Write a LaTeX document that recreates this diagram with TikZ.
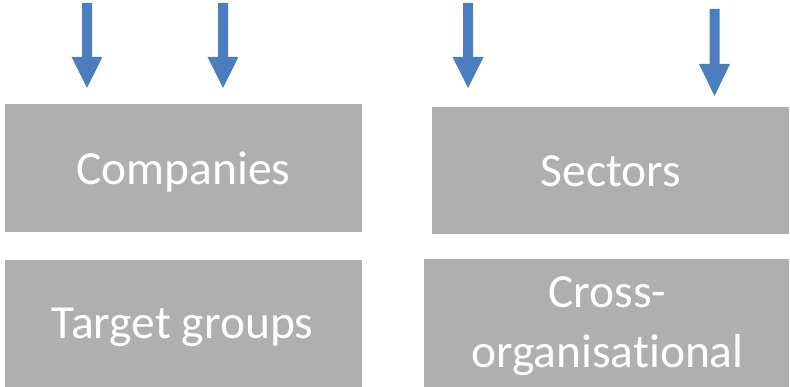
\documentclass[tikz,border=0pt]{standalone}
\usepackage{fontspec}
\setmainfont{Carlito}[Ligatures=NoCommon]
\definecolor{boxgrey}{HTML}{AFAFAF}
\definecolor{arrowblue}{HTML}{4A7EBF}
\tikzset{
  box/.style={fill=boxgrey, draw=none, inner sep=0pt, anchor=center},
  lbl/.style={text=white, font=\fontsize{47.5}{58}\selectfont, inner sep=0pt, anchor=base},
  pics/blockarrow/.style args={#1/#2}{code={
    % #1 = total length, #2 = head length; origin at top centre
    \fill[arrowblue] (-5,0) -- (5,0) -- (5,-#1+#2) -- (15.5,-#1+#2) -- (0,-#1)
      -- (-15.5,-#1+#2) -- (-5,-#1+#2) -- cycle;
  }}
}
\begin{document}
\begin{tikzpicture}[x=1pt,y=1pt]
\useasboundingbox (0,0) rectangle (790,387);
% boxes
\node[box, minimum width=357pt, minimum height=128pt] (companies) at (183.5,219) {};
\node[box, minimum width=357pt, minimum height=127pt] (sectors) at (610.5,216.5) {};
\node[box, minimum width=357pt, minimum height=127pt] (target) at (183.5,63.5) {};
\node[box, minimum width=365pt, minimum height=128pt] (cross) at (606.5,64) {};
% labels
\node[lbl] (companiesT) at (183.5,202) {Companies};
\node[lbl] (sectorsT) at (610.8,200) {Sectors};
\node[lbl] (targetT) at (182.5,48) {Target groups};
\node[lbl] (crossT1) at (607.5,79) {Cross-};
\node[lbl] (crossT2) at (607.5,19) {organisational};
% arrows
\pic at (87,384) {blockarrow={85/31}};
\pic at (223,384) {blockarrow={85/31}};
\pic at (468,384) {blockarrow={85/31}};
\pic at (714.5,378) {blockarrow={87/32}};
\end{tikzpicture}
\end{document}
